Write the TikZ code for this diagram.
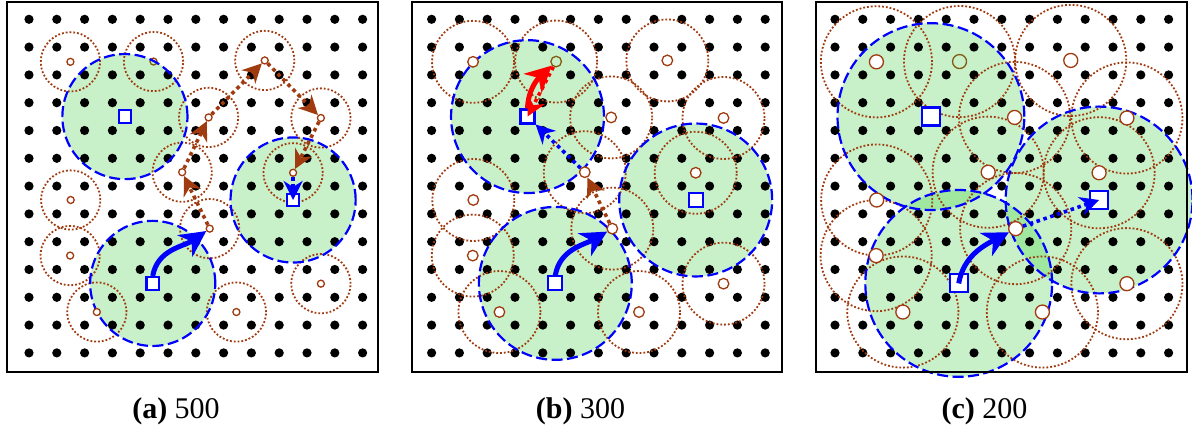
\documentclass[tikz,border=0pt]{standalone}
\usepackage{fontspec}
\setmainfont{Liberation Serif}
\usetikzlibrary{arrows.meta}
\definecolor{brownc}{RGB}{160,58,15}
\definecolor{greenc}{RGB}{30,200,30}
\definecolor{bluec}{RGB}{0,0,255}
\definecolor{redc}{RGB}{255,0,0}
\tikzset{
  greenfill/.style={fill=greenc, fill opacity=0.24},
  browndot/.style={draw=brownc, line width=1.8pt, dash pattern=on 1.8pt off 2pt},
  bluedash/.style={draw=bluec, line width=2.2pt, dash pattern=on 11pt off 4.5pt},
  smallc/.style={circle, draw=brownc, fill=white, line width=1.3pt, inner sep=0pt},
  sqn/.style={rectangle, draw=bluec, fill=white, line width=2.2pt, inner sep=0pt},
  framebox/.style={draw=black, line width=2pt},
  thickarrow/.style={line width=5pt, -{Stealth[length=26pt 0 0,width=26pt 0 0,inset=8pt 0]}},
  dotarrow/.style={line width=3.6pt, dash pattern=on 3.6pt off 3.6pt, -{Stealth[length=19pt 0 0,width=19pt 0 0,inset=6pt 0]}},
  captxt/.style={anchor=base, font=\fontsize{30}{32}\selectfont}
}
% #1 prefix, #2 blue radius, #3 brown radius, #4 small circle diameter, #5 square size
\newcommand{\panelbase}[5]{%
  \coordinate (#1q1) at (3.45,-3.5);
  \coordinate (#1q2) at (4.45,-9.5);
  \coordinate (#1q3) at (9.5,-6.5);
  \foreach \n/\x/\y in {1/1.49/1.53, 2/4.48/1.52, 3/8.48/1.48, 4/6.46/3.53,
      5/10.5/3.55, 6/5.51/5.5, 7/9.5/5.52, 8/1.5/6.5, 9/6.5/7.53,
      10/1.48/8.5, 11/2.44/10.53, 12/7.46/10.53, 13/10.5/9.51}
    {\coordinate (#1s\n) at (\x,-\y);}
  \node[smallc, minimum size=#4] (#1n2) at (#1s2) {};
  \foreach \q in {1,2,3} {\fill[greenfill] (#1q\q) circle (#2);}
  \foreach \i in {0,...,12} {\foreach \j in {0,...,12} {\fill[black] (\i,-\j) circle (4.6pt);}}
  \foreach \n in {1,...,13} {\draw[browndot] (#1s\n) circle (#3);}
  \foreach \q in {1,2,3} {\draw[bluedash] (#1q\q) circle (#2);}
  \foreach \n in {1,3,4,...,13} {\node[smallc, minimum size=#4] (#1n\n) at (#1s\n) {};}
  \foreach \q in {1,2,3} {\node[sqn, minimum size=#5] (#1Q\q) at (#1q\q) {};}
}
\begin{document}
\begin{tikzpicture}[x=1pt, y=1pt]
\fill[white] (0,0) rectangle (1192,-430);
\useasboundingbox (0,0) rectangle (1192,-430);

% panel (a)
\begin{scope}[shift={(29pt,-19.3pt)}, x=27.8pt, y=27.8pt]
  \panelbase{a}{2.25}{1.065}{7pt}{12.5pt}
  \draw[thickarrow, bluec] (aQ2.north) to[out=80, in=215] (an9);
  \draw[dotarrow, brownc] (an9) -- (an6);
  \draw[dotarrow, brownc] (an6) -- (an4);
  \draw[dotarrow, brownc] (an4) -- (an3);
  \draw[dotarrow, brownc] (an3) -- (an5);
  \draw[dotarrow, brownc] (an5) -- (an7);
  \draw[dotarrow, bluec] (an7) -- (aQ3.center);
\end{scope}
\draw[framebox] (7.3,-2) rectangle (378,-372);

% panel (b)
\begin{scope}[shift={(431.6pt,-19.3pt)}, x=27.8pt, y=27.8pt]
  \panelbase{b}{2.75}{1.475}{10.6pt}{14pt}
  \draw[thickarrow, bluec] (bQ2.north) to[out=80, in=210] (bn9);
  \draw[dotarrow, brownc] (bn9) -- (bn6);
  \draw[dotarrow, bluec] (bn6) -- (bQ1);
  \draw[thickarrow, redc] (bQ1.north) to[out=88, in=223] (bn2);
  \draw[dotarrow, redc] (bn2) -- (bQ1.center);
\end{scope}
\draw[framebox] (411.7,-2) rectangle (781.7,-372);

% panel (c)
\begin{scope}[shift={(835pt,-19.3pt)}, x=27.8pt, y=27.8pt]
  \panelbase{c}{3.36}{2.0}{14pt}{18pt}
  \draw[thickarrow, bluec] (cQ2.center) to[out=80, in=208] (cn9);
  \draw[dotarrow, bluec] (cn9) -- (cQ3.center);
\end{scope}
\draw[framebox] (816,-2) rectangle (1186.7,-372);

% captions
\node[captxt] (capa) at (176,-418) {\textbf{(a)} 500};
\node[captxt] (capb) at (580.5,-418) {\textbf{(b)} 300};
\node[captxt] (capc) at (984.5,-418) {\textbf{(c)} 200};
\end{tikzpicture}
\end{document}
